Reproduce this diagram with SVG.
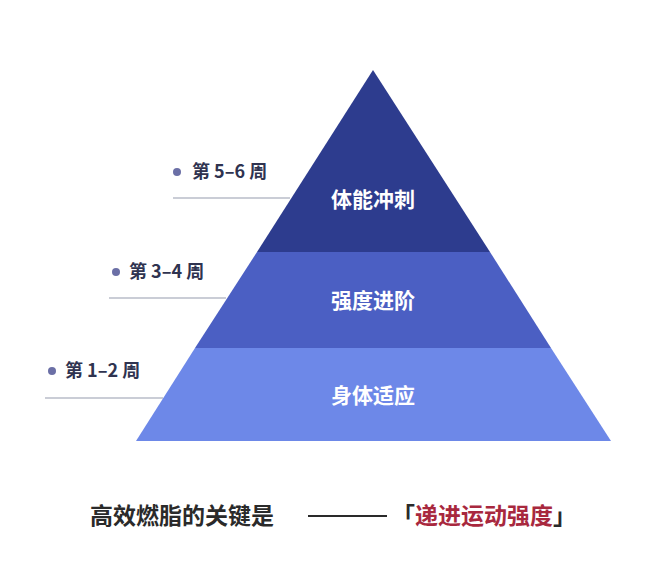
<svg xmlns="http://www.w3.org/2000/svg" width="656" height="564" viewBox="0 0 656 564">
<style>
.lbl{font-family:"Noto Sans CJK SC","Liberation Sans",sans-serif;font-size:18px;font-weight:bold;fill:#2f3350}
.in{font-family:"Noto Sans CJK SC",sans-serif;font-size:21px;font-weight:bold;fill:#ffffff;text-anchor:middle}
.ln{stroke:#b8bcc8;stroke-width:1.5}
.dot{fill:#6b6fa6}
</style>
<rect width="656" height="564" fill="#ffffff"/>
<g id="top"><polygon points="373,70 257,252 490,252" fill="#2d3c8e"/><text class="in" x="373" y="207">体能冲刺</text></g>
<g id="middle"><polygon points="257,252 490,252 551,348 195,348" fill="#4b5fc3"/><text class="in" x="373" y="308">强度进阶</text></g>
<g id="bottom"><polygon points="195,348 551,348 611,441 136,441" fill="#6d88e8"/><text class="in" x="373" y="403">身体适应</text></g>
<g id="connectors">
<line class="ln" x1="173" y1="198" x2="290" y2="198"/>
<line class="ln" x1="109" y1="298" x2="226" y2="298"/>
<line class="ln" x1="45" y1="398" x2="163" y2="398"/>
</g>
<g id="label56"><circle class="dot" cx="177" cy="172" r="4"/><text class="lbl" x="192" y="178">第 5–6 周</text></g>
<g id="label34"><circle class="dot" cx="116" cy="272" r="4"/><text class="lbl" x="129" y="278">第 3–4 周</text></g>
<g id="label12"><circle class="dot" cx="52" cy="371" r="4"/><text class="lbl" x="65" y="377">第 1–2 周</text></g>
<g id="caption">
<text x="90" y="524" font-family="Noto Sans CJK SC,sans-serif" font-size="23" font-weight="bold" fill="#2a2a2a">高效燃脂的关键是</text>
<line x1="308" y1="516" x2="387" y2="516" stroke="#2a2a2a" stroke-width="2"/>
<text x="392" y="524" font-family="Noto Sans CJK SC,sans-serif" font-size="23" font-weight="bold" fill="#2a2a2a">「<tspan fill="#a8283e">递进运动强度</tspan>」</text>
</g>
</svg>
